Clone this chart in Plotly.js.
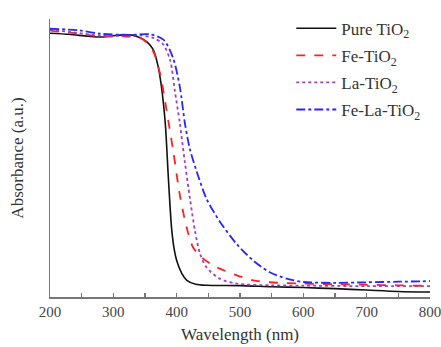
<!DOCTYPE html>
<html>
<head>
<meta charset="utf-8">
<script src="https://cdn.plot.ly/plotly-3.0.1.min.js"></script>
<style>html,body{margin:0;padding:0;background:#fff}#chart{width:441px;height:347px}</style>
</head>
<body>
<div id="chart"></div>
<script>
const seriesNames = ["Pure TiO<sub>2</sub>", "Fe-TiO<sub>2</sub>", "La-TiO<sub>2</sub>", "Fe-La-TiO<sub>2</sub>"];

const pureX = [200,230,260,280,300,316,330,342,353,363,370,376,382,387,392,396,400,408,416,430,447,500,550,600,650,700,750,800];
const pureY = [0.949,0.945,0.938,0.935,0.940,0.943,0.942,0.933,0.918,0.890,0.837,0.756,0.625,0.424,0.247,0.173,0.131,0.085,0.060,0.046,0.042,0.041,0.037,0.034,0.030,0.025,0.020,0.018];

const feX = [200,240,280,321,342,353,363,374,384,395,405,416,426,442,458,468,495,521,547,600,650,700,750,800];
const feY = [0.958,0.949,0.937,0.937,0.932,0.915,0.884,0.802,0.672,0.519,0.367,0.248,0.178,0.138,0.113,0.102,0.078,0.060,0.053,0.048,0.046,0.044,0.042,0.040];

const laX = [200,240,279,320,342,363,379,390,397,405,413,421,429,437,447,468,495,550,600,700,800];
const laY = [0.961,0.951,0.940,0.940,0.941,0.932,0.908,0.849,0.743,0.625,0.484,0.354,0.237,0.155,0.107,0.066,0.048,0.042,0.041,0.039,0.039];

const felaX = [200,247,279,326,358,379,394,405,413,421,432,447,468,495,521,547,574,600,650,700,750,800];
const felaY = [0.965,0.959,0.947,0.943,0.945,0.926,0.862,0.756,0.625,0.531,0.449,0.354,0.272,0.190,0.131,0.089,0.066,0.054,0.051,0.053,0.055,0.057];

const xTickVals = [200,300,400,500,600,700,800];

const styles = [
  {color:"#111111", dash:"solid", width:1.6},
  {color:"#ff2020", dash:"dash", width:1.8},
  {color:"#a040b8", dash:"dot", width:1.8},
  {color:"#2626ff", dash:"dashdot", width:1.8}
];
const xs = [pureX, feX, laX, felaX];
const ys = [pureY, feY, laY, felaY];

const traces = seriesNames.map((n,i)=>({
  x: xs[i], y: ys[i], name: n, type:"scatter", mode:"lines",
  legendgroup: "g"+i,
  line: {color: styles[i].color, dash: styles[i].dash, width: styles[i].width, shape:"spline", smoothing:0.8}
}));

const serif = "Liberation Serif, Times New Roman, serif";

const layout = {
  width:441, height:347,
  margin:{l:50, r:11, t:14, b:50},
  paper_bgcolor:"#fff", plot_bgcolor:"#fff",
  font: {family:serif, size:15, color:"#333"},
  showlegend:true,
  legend:{x:0.635, y:1.03, xanchor:"left", yanchor:"top", bgcolor:"rgba(0,0,0,0)", tracegroupgap:2,
          itemwidth:40,
          font:{family:serif, size:17, color:"#333"}},
  xaxis:{
    range:[200,800], tickvals:xTickVals, ticks:"inside", ticklen:4, tickcolor:"#777", tickwidth:1.2,
    minor:{dtick:50, ticks:"inside", ticklen:4, tickcolor:"#777", tickwidth:1.2, showgrid:false},
    showline:true, linecolor:"#777", linewidth:1.5, showgrid:false, zeroline:false,
    ticklabeloverflow:"allow",
    tickfont:{family:serif, size:15, color:"#444"},
    title:{text:"Wavelength (nm)", standoff:9, font:{family:serif, size:17, color:"#333"}}
  },
  yaxis:{
    range:[0,1], showticklabels:false, ticks:"", showline:true, linecolor:"#777", linewidth:1.5,
    showgrid:false, zeroline:false,
    title:{text:"Absorbance (a.u.)", standoff:20, font:{family:serif, size:17, color:"#333"}}
  }
};

Plotly.newPlot("chart", traces, layout, {displayModeBar:false, staticPlot:true});
</script>
</body>
</html>
